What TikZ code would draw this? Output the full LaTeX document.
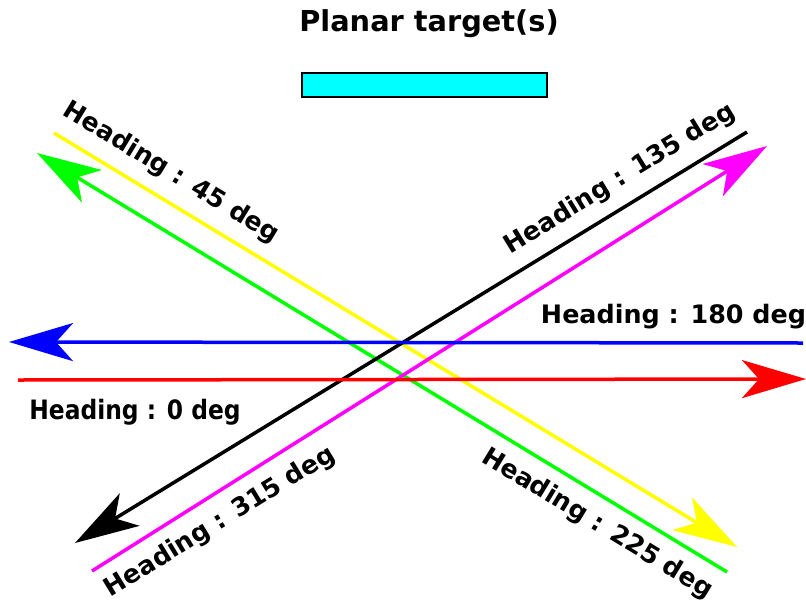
\documentclass[tikz,border=0pt]{standalone}
\usepackage{fontspec}
\setmainfont{DejaVu Sans}
\usetikzlibrary{arrows.meta}
\definecolor{cyn}{RGB}{0,255,255}
\definecolor{ylw}{RGB}{255,255,0}
\definecolor{grn}{RGB}{0,255,0}
\definecolor{mgt}{RGB}{255,0,255}
\definecolor{blu}{RGB}{0,0,255}
\definecolor{rd}{RGB}{255,0,0}
\tikzset{
  ray/.style={line width=3.5pt, -{Stealth[length=64pt,width=38pt,inset=17pt]}},
  lbl/.style={font=\fontsize{25.4}{25.4}\selectfont\bfseries, inner sep=0pt, anchor=center},
}
\begin{document}
\begin{tikzpicture}[x=1pt,y=-1pt]
\useasboundingbox (0,0) rectangle (806,611);
\node[font=\fontsize{28.8}{28.8}\selectfont\bfseries, inner sep=0pt] (title) at (429,24) {Planar target(s)};
\node[draw=black, line width=2pt, fill=cyn, minimum width=245pt, minimum height=24pt, inner sep=0pt] (target) at (424.5,85) {};
% endpoints
\coordinate (y1) at (54,133); \coordinate (y2) at (737,547);
\coordinate (g1) at (727,572); \coordinate (g2) at (37,153);
\coordinate (k1) at (747,132); \coordinate (k2) at (75,543);
\coordinate (m1) at (92,571); \coordinate (m2) at (767,146);
\coordinate (b1) at (803,343); \coordinate (b2) at (9,342);
\coordinate (r1) at (18,380); \coordinate (r2) at (806,379);
\draw[ray, color=ylw] (y1) -- (y2);
\draw[ray, color=grn] (g1) -- (g2);
\draw[ray, color=black] (k1) -- (k2);
\draw[ray, color=mgt] (m1) -- (m2);
\draw[ray, color=blu] (b1) -- (b2);
\draw[ray, color=rd] (r1) -- (r2);
% labels
\node[lbl, rotate=-31.3] (l45) at (171,173) {Heading : 45 deg};
\node[lbl, rotate=31.5] (l135) at (620,179) {Heading : 135 deg};
\node[lbl] (l180) at (673.5,317) {Heading : 180 deg};
\node[lbl] (l0) at (135,412) {\scalebox{0.92}[1.05]{Heading : 0 deg}};
\node[lbl, rotate=31.5] (l315) at (220,522) {Heading : 315 deg};
\node[lbl, rotate=-31.3] (l225) at (597,524) {Heading : 225 deg};
\end{tikzpicture}
\end{document}
